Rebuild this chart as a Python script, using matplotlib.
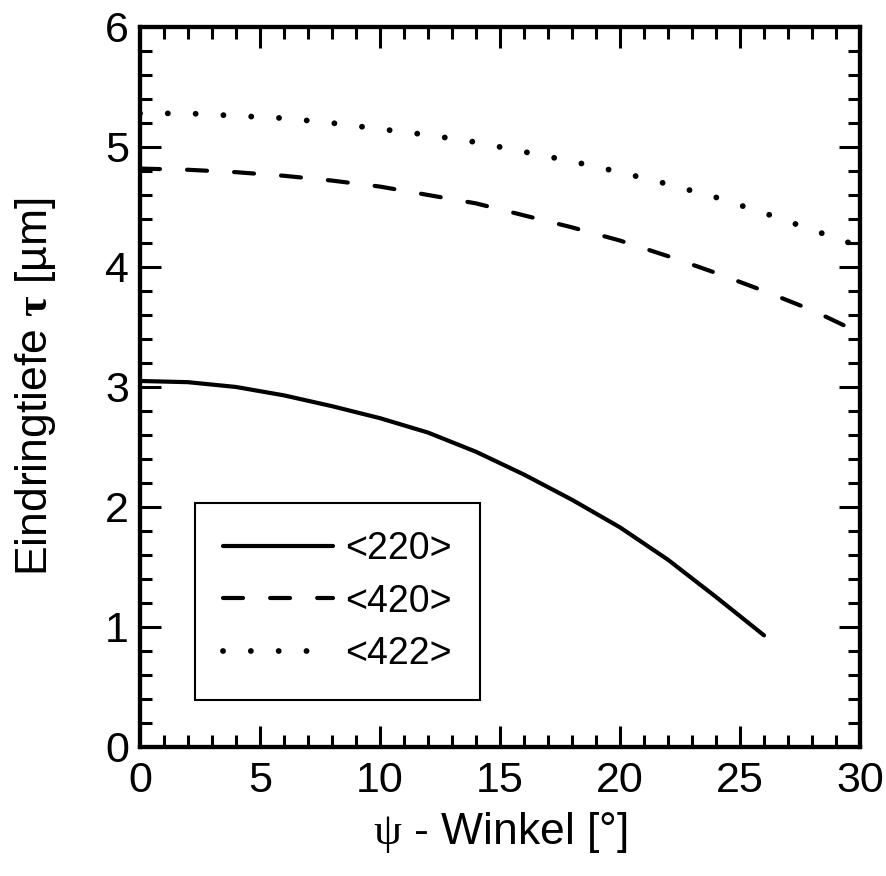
import numpy as np
import matplotlib
matplotlib.use("Agg")
import matplotlib.pyplot as plt
from matplotlib.ticker import MultipleLocator

plt.rcParams['font.family'] = ['Liberation Sans', 'DejaVu Sans']
plt.rcParams['mathtext.fontset'] = 'custom'
plt.rcParams['mathtext.rm'] = 'Liberation Serif'
plt.rcParams['mathtext.bf'] = 'Liberation Serif:bold'

# values
psi_220 = [0, 2, 4, 6, 8, 10, 12, 14, 16, 18, 20, 22, 24, 26]
tau_220 = [3.05, 3.04, 3.00, 2.93, 2.84, 2.74, 2.62, 2.46, 2.27, 2.06, 1.83, 1.56, 1.25, 0.93]

psi_420 = [0, 2, 4, 6, 8, 10, 12, 14, 16, 18, 20, 22, 24, 26, 28, 30]
tau_420 = [4.82, 4.81, 4.79, 4.76, 4.72, 4.67, 4.60, 4.53, 4.43, 4.33, 4.22, 4.09, 3.95, 3.80, 3.64, 3.45]

psi_422 = [0, 2, 4, 6, 8, 10, 12, 14, 16, 18, 20, 22, 24, 26, 28, 30]
tau_422 = [5.28, 5.28, 5.26, 5.24, 5.20, 5.15, 5.10, 5.04, 4.96, 4.88, 4.79, 4.69, 4.58, 4.45, 4.31, 4.17]

labels = ['<220>', '<420>', '<422>']

fig = plt.figure(figsize=(8.87, 8.76), dpi=100)
ax = fig.add_axes([0.1578, 0.1473, 0.9696 - 0.1578, 0.9692 - 0.1473])

ax.plot(psi_220, tau_220, color='black', lw=3, solid_capstyle='round',
        solid_joinstyle='round', label=labels[0])
ax.plot(psi_420, tau_420, color='black', lw=3, linestyle=(0, (4.8, 6.5)),
        dash_capstyle='round', label=labels[1])
ax.plot(psi_422, tau_422, color='black', lw=4.2, linestyle=(0, (0.01, 4.76)),
        dash_capstyle='round', label=labels[2])

ax.set_xlim(0, 30)
ax.set_ylim(0, 6)
ax.xaxis.set_major_locator(MultipleLocator(5))
ax.xaxis.set_minor_locator(MultipleLocator(1))
ax.yaxis.set_major_locator(MultipleLocator(1))
ax.yaxis.set_minor_locator(MultipleLocator(0.2))

for s in ax.spines.values():
    s.set_linewidth(3.1)
ax.tick_params(which='both', direction='in', top=True, right=True, width=2.2)
ax.tick_params(which='major', length=15, labelsize=31)
ax.tick_params(axis='x', which='major', pad=10)
ax.tick_params(axis='y', which='major', pad=8)
ax.tick_params(which='minor', length=8.5)

ax.set_xlabel(r'$\mathrm{\psi}$ - Winkel [°]', fontsize=32)
ax.set_ylabel(r'Eindringtiefe $\mathbf{\tau}$ [µm]', fontsize=32)
ax.xaxis.set_label_coords(0.5, -0.088)
ax.yaxis.set_label_coords(-0.114, 0.5)

leg = ax.legend(loc='lower left', bbox_to_anchor=(0.076, 0.065), fontsize=27,
                frameon=True, fancybox=False, edgecolor='black', framealpha=1,
                handlelength=2.93, handletextpad=0.32, labelspacing=0.43,
                borderpad=0.76, borderaxespad=0)
leg.get_frame().set_linewidth(1.5)

fig.savefig('out.png', dpi=100)
